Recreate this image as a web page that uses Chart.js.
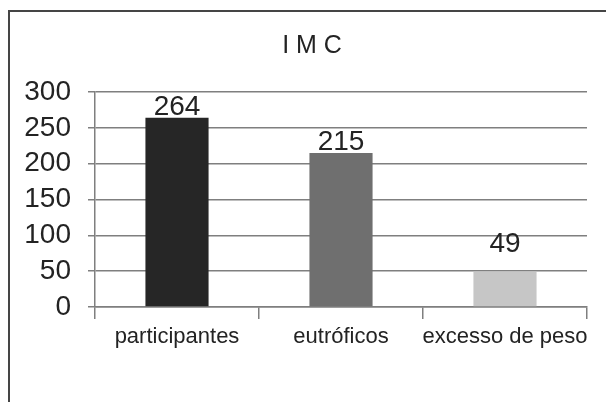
<!DOCTYPE html>
<html>
<head>
<meta charset="utf-8">
<script src="https://cdn.jsdelivr.net/npm/chart.js@4"></script>
<style>
  html, body { margin: 0; padding: 0; background: #ffffff; }
  #wrap { position: relative; width: 606px; height: 402px; overflow: hidden; }
  #frame { position: absolute; left: 8px; top: 10px; width: 640px; height: 440px;
           border: 2px solid #454545; box-sizing: border-box; }
  #c { position: absolute; left: 0; top: 0; }
</style>
</head>
<body>
<div id="wrap">
  <div id="frame"></div>
  <canvas id="c" width="606" height="402"></canvas>
</div>
<script>
const categories = ['participantes', 'eutróficos', 'excesso de peso'];
const counts = [264, 215, 49];
const barColors = ['#262626', '#6f6f6f', '#c6c6c6'];
const yTicks = [0, 50, 100, 150, 200, 250, 300];

const FONT = '"Liberation Sans", Arial, sans-serif';
const INK = '#232323';
const LINE = '#7f7f7f';

// Title drawn centred above the plot
const titlePlugin = {
  id: 'imcTitle',
  afterDraw(chart) {
    const ctx = chart.ctx;
    ctx.save();
    ctx.font = '25px ' + FONT;
    ctx.fillStyle = INK;
    ctx.textAlign = 'center';
    ctx.textBaseline = 'alphabetic';
    ctx.fillText('I M C', 312, 53);
    ctx.restore();
  }
};

// Value labels above each bar
const valueLabels = {
  id: 'valueLabels',
  afterDatasetsDraw(chart, args, opts) {
    const ctx = chart.ctx;
    const meta = chart.getDatasetMeta(0);
    ctx.save();
    ctx.font = '28px ' + FONT;
    ctx.fillStyle = INK;
    ctx.textAlign = 'center';
    ctx.textBaseline = 'alphabetic';
    meta.data.forEach((bar, i) => {
      const gap = (opts.gaps && opts.gaps[i] != null) ? opts.gaps[i] : 3;
      ctx.fillText(String(chart.data.datasets[0].data[i]), bar.x, bar.y - gap);
    });
    ctx.restore();
  }
};

new Chart(document.getElementById('c'), {
  type: 'bar',
  data: {
    labels: categories,
    datasets: [{
      data: counts,
      backgroundColor: barColors,
      borderWidth: 0,
      barPercentage: 0.385,
      categoryPercentage: 1.0
    }]
  },
  options: {
    responsive: false,
    animation: false,
    layout: { padding: { top: 92, right: 19, left: 0, bottom: 0 } },
    plugins: {
      legend: { display: false },
      title: { display: false },
      tooltip: { enabled: false },
      valueLabels: { gaps: [3, 3, 20] }
    },
    scales: {
      x: {
        offset: true,
        grid: {
          offset: true,
          drawOnChartArea: false,
          drawTicks: true,
          tickLength: 12,
          color: LINE,
          lineWidth: 1.5
        },
        border: { display: true, color: LINE, width: 1.5 },
        ticks: {
          color: INK,
          font: { family: FONT, size: 22 },
          padding: 5,
          maxRotation: 0,
          autoSkip: false
        },
        afterFit(scale) { scale.height = 95; }
      },
      y: {
        min: 0,
        max: 300,
        afterBuildTicks(scale) { scale.ticks = yTicks.map(v => ({ value: v })); },
        grid: {
          color: LINE,
          lineWidth: 1.5,
          drawTicks: true,
          tickLength: 7
        },
        border: { display: true, color: LINE, width: 1.5 },
        ticks: {
          color: INK,
          font: { family: FONT, size: 28 },
          padding: 17,
          autoSkip: false
        },
        afterFit(scale) { scale.width = 95; }
      }
    }
  },
  plugins: [titlePlugin, valueLabels]
});
</script>
</body>
</html>
